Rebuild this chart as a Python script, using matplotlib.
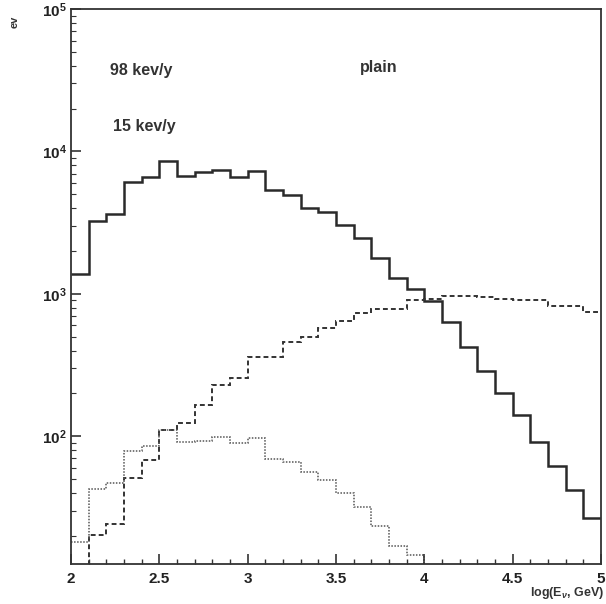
import numpy as np
import matplotlib
matplotlib.use("Agg")
import matplotlib.pyplot as plt
from matplotlib.ticker import FixedLocator, FuncFormatter, LogLocator, NullFormatter

plt.rcParams['font.family'] = ['Liberation Sans', 'DejaVu Sans']
plt.rcParams['font.weight'] = 'bold'
plt.rcParams['mathtext.fontset'] = 'custom'
plt.rcParams['mathtext.rm'] = 'Liberation Sans:bold'
plt.rcParams['mathtext.bf'] = 'Liberation Sans:bold'
plt.rcParams['mathtext.it'] = 'Liberation Sans:bold:italic'

# ---- data ----
bin_edges = [2.0, 2.1, 2.2, 2.3, 2.4, 2.5, 2.6, 2.7, 2.8, 2.9, 3.0,
             3.1, 3.2, 3.3, 3.4, 3.5, 3.6, 3.7, 3.8, 3.9, 4.0,
             4.1, 4.2, 4.3, 4.4, 4.5, 4.6, 4.7, 4.8, 4.9, 5.0]
solid_counts = [1380, 3240, 3610, 6140, 6630, 8570, 6710, 7130, 7350, 6640,
                7300, 5350, 4920, 4040, 3780, 3050, 2460, 1780, 1285, 1090,
                895, 635, 423, 286, 200, 142, 91, 62, 42, 26.5]
dashed_counts = [1, 20.3, 24.1, 51.4, 68.5, 111, 124, 165, 231, 258,
                 361, 360, 457, 502, 579, 647, 733, 781, 778, 912,
                 924, 967, 964, 945, 927, 909, 906, 820, 818, 752]
dotted_counts = [18.2, 42.6, 46.8, 79.5, 85.9, 111, 91.2, 92.5, 98.2, 90.3,
                 97.6, 69.3, 65.8, 55.8, 49.7, 40.2, 31.9, 23.4, 16.9, 14.8,
                 1, 1, 1, 1, 1, 1, 1, 1, 1, 1]
x_ticks = [2.0, 2.5, 3.0, 3.5, 4.0, 4.5, 5.0]
x_tick_labels = ['2', '2.5', '3', '3.5', '4', '4.5', '5']
y_ticks = [1e2, 1e3, 1e4, 1e5]
labels_text = ['98 kev/y', '15 kev/y', 'plain']

# ---- figure ----
fig = plt.figure(figsize=(6.06, 6.04), dpi=100)
ax = fig.add_axes([71/606, 1 - 564/604, 530/606, 555/604])

ax.stairs(solid_counts, bin_edges, baseline=None, color='#2a2a2a', lw=1.8)
ax.stairs(dashed_counts, bin_edges, baseline=None, color='#333333', lw=1.4,
          linestyle=(0, (2.5, 1.6)))
ax.stairs(dotted_counts, bin_edges, baseline=None, color='#555555', lw=1.1,
          linestyle=(0, (1, 1)))

ax.set_yscale('log')
ax.set_xlim(2.0, 5.0)
ax.set_ylim(12.7, 1e5)

ax.xaxis.set_major_locator(FixedLocator(x_ticks))
ax.set_xticklabels(x_tick_labels)
ax.xaxis.set_minor_locator(FixedLocator(bin_edges))
ax.yaxis.set_major_locator(FixedLocator(y_ticks))
ax.yaxis.set_major_formatter(FuncFormatter(
    lambda v, p: r'$\mathbf{10^{%d}}$' % int(round(np.log10(v)))))
ax.yaxis.set_minor_locator(LogLocator(base=10, subs=np.arange(2, 10)))
ax.yaxis.set_minor_formatter(NullFormatter())

ax.tick_params(which='both', direction='in', top=False, right=False,
               colors='#333333', labelcolor='#222222')
ax.tick_params(axis='x', which='major', length=7, width=1.2, labelsize=11, pad=6)
ax.tick_params(axis='x', which='minor', length=3.5, width=1.0)
ax.tick_params(axis='y', which='major', length=7, width=1.2, labelsize=11, pad=3)
ax.tick_params(axis='y', which='minor', length=3.5, width=0.8)
for lab in ax.get_xticklabels():
    lab.set_fontweight('bold')

for s in ax.spines.values():
    s.set_linewidth(1.3)
    s.set_color('#333333')

ax.text(0.074, 0.89, labels_text[0], transform=ax.transAxes, fontsize=11.5,
        fontweight='bold', ha='left', va='center', color='#333333')
ax.text(0.079, 0.789, labels_text[1], transform=ax.transAxes, fontsize=11.5,
        fontweight='bold', ha='left', va='center', color='#333333')
ax.text(0.545, 0.895, labels_text[2], transform=ax.transAxes, fontsize=11.5,
        fontweight='bold', ha='left', va='center', color='#333333')

fig.text(604/606, 1 - 593/604, r'log(E$_{\nu}$, GeV)', ha='right', va='center',
         fontsize=9, fontweight='bold', color='#333333')
fig.text(15/606, 1 - 22/604, 'ev', rotation=90, ha='center', va='center',
         fontsize=8, fontweight='bold', color='#333333')

fig.savefig('out.png', dpi=100)
